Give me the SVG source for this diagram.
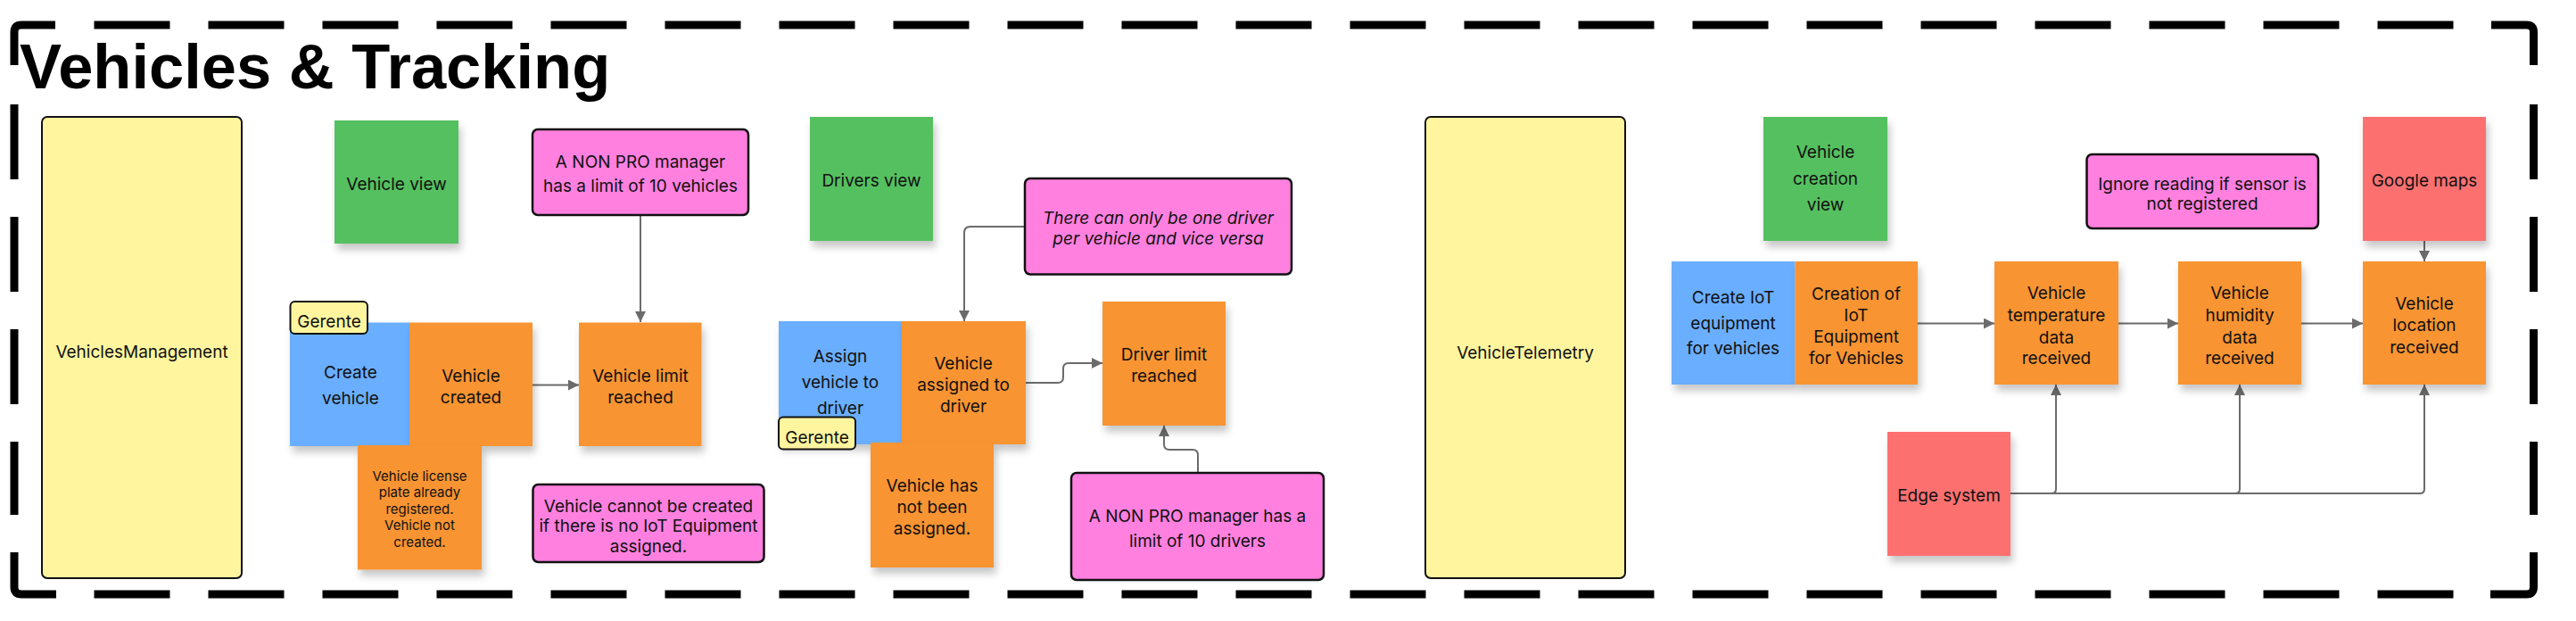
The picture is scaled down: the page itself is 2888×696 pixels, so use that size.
<svg xmlns="http://www.w3.org/2000/svg" width="2888" height="696" viewBox="0 0 2888 696">
<style>
.t{font-family:Inter,"Liberation Sans",sans-serif;font-size:19px;fill:#111;text-anchor:middle}
.s{font-size:15px}
.i{font-style:italic}
.title{font-family:"Liberation Sans",Arial,sans-serif;font-weight:bold;font-size:70.5px;fill:#000}
.frame{fill:none;stroke:#000;stroke-width:9}
.dash{stroke-dasharray:85 43}
.dashv{stroke-dasharray:84 42}
.yel{fill:#FFF59F;stroke:#111;stroke-width:2}
.pink{fill:#FF80DF;stroke:#111;stroke-width:2.5}
.green{fill:#54C05E;filter:url(#sh)}
.orange{fill:#F89433;filter:url(#sh)}
.blue{fill:#6BAEFF;filter:url(#sh)}
.red{fill:#FD7070;filter:url(#sh)}
.tag{fill:#FFF59F;stroke:#111;stroke-width:2}
.c{fill:none;stroke:#6b6b6b;stroke-width:2;marker-end:url(#ah)}
</style>
<defs>
<filter id="sh" x="-20%" y="-20%" width="150%" height="150%">
<feDropShadow dx="3" dy="7" stdDeviation="4" flood-color="#000" flood-opacity="0.22"/>
</filter>
<marker id="ah" viewBox="0 0 10 10" refX="10" refY="5" markerWidth="7" markerHeight="6" orient="auto">
<path d="M0,0 L10,5 L0,10 z" fill="#6b6b6b"/>
</marker>
</defs>
<rect width="2888" height="696" fill="#fff"/>
<g id="frame">
<path class="frame" d="M16,73 V36 Q16,28 24,28 H62"/>
<path class="frame" d="M2793,28 H2832.5 Q2840.5,28 2840.5,36 V73"/>
<path class="frame" d="M2840.5,619 V658 Q2840.5,666 2832.5,666 H2792"/>
<path class="frame" d="M63,666 H24 Q16,666 16,658 V619"/>
<line class="frame dash" x1="105.5" y1="28" x2="2750.5" y2="28"/>
<line class="frame dash" x1="105.5" y1="666" x2="2750.5" y2="666"/>
<line class="frame dashv" x1="16" y1="117" x2="16" y2="577"/>
<line class="frame dashv" x1="2840.5" y1="117" x2="2840.5" y2="577"/>
<text class="title" x="22" y="99">Vehicles &amp; Tracking</text>
</g>
<g id="connectors">
<path class="c" d="M718,241 V361"/>
<path class="c" d="M597,431.5 H649"/>
<path class="c" d="M1149,254 H1088 Q1081,254 1081,261 V360"/>
<path class="c" d="M1150,429 H1186 Q1192,429 1192,423 V413 Q1192,407 1198,407 H1236"/>
<path class="c" d="M1343,530 V510 Q1343,504 1337,504 H1311 Q1305,504 1305,498 V477"/>
<path class="c" d="M2150,362.5 H2236"/>
<path class="c" d="M2375,362.5 H2442"/>
<path class="c" d="M2580,362.5 H2649"/>
<path class="c" d="M2718,270 V293"/>
<path class="c" d="M2254,553 H2300 Q2305,553 2305,548 V431"/>
<path class="c" d="M2254,553 H2506 Q2511,553 2511,548 V431"/>
<path class="c" d="M2254,553 H2713 Q2718,553 2718,548 V431"/>
</g>
<g id="vehiclesManagement"><rect class="yel" x="47" y="131" width="224" height="517" rx="6"/><text class="t" x="159" y="401">VehiclesManagement</text></g>
<g id="vehicleView"><rect class="green" x="375" y="135" width="139" height="138"/><text class="t" x="444.5" y="213">Vehicle view</text></g>
<g id="limitVehicles"><rect class="pink" x="597" y="145" width="242" height="96" rx="6"/><text class="t" x="718" y="187.5">A NON PRO manager</text><text class="t" x="718" y="215">has a limit of 10 vehicles</text></g>
<g id="createVehicle"><rect class="blue" x="325" y="361.5" width="134" height="138.5"/><text class="t" x="393" y="424">Create</text><text class="t" x="393" y="453">vehicle</text></g>
<g id="vehicleCreated"><rect class="orange" x="459" y="361.5" width="138" height="138.5"/><text class="t" x="528" y="428">Vehicle</text><text class="t" x="528" y="452">created</text></g>
<g id="gerente1"><rect class="tag" x="325.5" y="338" width="86.5" height="36" rx="5"/><text class="t" x="369" y="367">Gerente</text></g>
<g id="vehicleLimitReached"><rect class="orange" x="649" y="361.5" width="137.5" height="138.5"/><text class="t" x="718" y="428">Vehicle limit</text><text class="t" x="718" y="452">reached</text></g>
<g id="licensePlate"><rect class="orange" x="401" y="499" width="139" height="139.5"/><text class="t s" x="470.5" y="538.5">Vehicle license</text><text class="t s" x="470.5" y="557">plate already</text><text class="t s" x="470.5" y="575.5">registered.</text><text class="t s" x="470.5" y="594">Vehicle not</text><text class="t s" x="470.5" y="612.5">created.</text></g>
<g id="noIotEquipment"><rect class="pink" x="597.5" y="543" width="259" height="87" rx="6"/><text class="t" x="727" y="573.5">Vehicle cannot be created</text><text class="t" x="727" y="596">if there is no IoT Equipment</text><text class="t" x="727" y="619">assigned.</text></g>
<g id="driversView"><rect class="green" x="908" y="131" width="138" height="139"/><text class="t" x="977" y="208.5">Drivers view</text></g>
<g id="oneDriver"><rect class="pink" x="1149" y="200" width="299" height="107.5" rx="6"/><text class="t i" x="1298.5" y="251">There can only be one driver</text><text class="t i" x="1298.5" y="273.5">per vehicle and vice versa</text></g>
<g id="assignVehicle"><rect class="blue" x="873" y="360" width="138" height="138"/><text class="t" x="942" y="406">Assign</text><text class="t" x="942" y="434.5">vehicle to</text><text class="t" x="942" y="463.5">driver</text></g>
<g id="vehicleAssigned"><rect class="orange" x="1011" y="360" width="139" height="138"/><text class="t" x="1080" y="414">Vehicle</text><text class="t" x="1080" y="438">assigned to</text><text class="t" x="1080" y="462">driver</text></g>
<g id="gerente2"><rect class="tag" x="873" y="467.5" width="86" height="36" rx="5"/><text class="t" x="916" y="497">Gerente</text></g>
<g id="vehicleNotAssigned"><rect class="orange" x="976" y="496" width="138" height="140"/><text class="t" x="1045" y="551">Vehicle has</text><text class="t" x="1045" y="575">not been</text><text class="t" x="1045" y="599">assigned.</text></g>
<g id="driverLimitReached"><rect class="orange" x="1236" y="338" width="138" height="139"/><text class="t" x="1305" y="404">Driver limit</text><text class="t" x="1305" y="428">reached</text></g>
<g id="limitDrivers"><rect class="pink" x="1201" y="530" width="283" height="120" rx="6"/><text class="t" x="1342.5" y="585">A NON PRO manager has a</text><text class="t" x="1342.5" y="612.5">limit of 10 drivers</text></g>
<g id="vehicleTelemetry"><rect class="yel" x="1598" y="131" width="224" height="517" rx="6"/><text class="t" x="1710" y="401.5">VehicleTelemetry</text></g>
<g id="vehicleCreationView"><rect class="green" x="1977" y="131" width="139" height="139"/><text class="t" x="2046.5" y="177">Vehicle</text><text class="t" x="2046.5" y="206.5">creation</text><text class="t" x="2046.5" y="235.5">view</text></g>
<g id="createIot"><rect class="blue" x="1874" y="293" width="138.5" height="138"/><text class="t" x="1943" y="339.5">Create IoT</text><text class="t" x="1943" y="368.5">equipment</text><text class="t" x="1943" y="397">for vehicles</text></g>
<g id="creationIot"><rect class="orange" x="2012.5" y="293" width="137.5" height="138"/><text class="t" x="2081" y="336">Creation of</text><text class="t" x="2081" y="360">IoT</text><text class="t" x="2081" y="383.5">Equipment</text><text class="t" x="2081" y="408">for Vehicles</text></g>
<g id="edgeSystem"><rect class="red" x="2116" y="484" width="138" height="139"/><text class="t" x="2185" y="561.5">Edge system</text></g>
<g id="temperature"><rect class="orange" x="2236" y="293" width="139" height="138"/><text class="t" x="2305.5" y="335">Vehicle</text><text class="t" x="2305.5" y="360">temperature</text><text class="t" x="2305.5" y="384.5">data</text><text class="t" x="2305.5" y="408">received</text></g>
<g id="humidity"><rect class="orange" x="2442" y="293" width="138" height="138"/><text class="t" x="2511" y="335">Vehicle</text><text class="t" x="2511" y="360">humidity</text><text class="t" x="2511" y="384.5">data</text><text class="t" x="2511" y="408">received</text></g>
<g id="ignoreReading"><rect class="pink" x="2339.5" y="173" width="259.5" height="83" rx="6"/><text class="t" x="2469" y="212.5">Ignore reading if sensor is</text><text class="t" x="2469" y="234.5">not registered</text></g>
<g id="googleMaps"><rect class="red" x="2649" y="131" width="138" height="139"/><text class="t" x="2718" y="209">Google maps</text></g>
<g id="location"><rect class="orange" x="2649" y="293" width="138" height="138"/><text class="t" x="2718" y="347">Vehicle</text><text class="t" x="2718" y="371">location</text><text class="t" x="2718" y="396">received</text></g>
</svg>
